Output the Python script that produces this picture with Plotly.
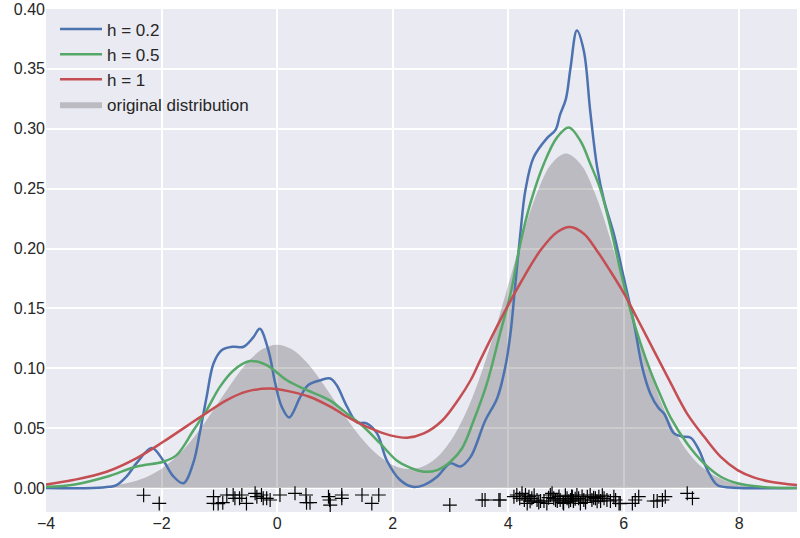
import plotly.graph_objects as go

# ---- data ----
h02_x = [-4.0, -3.2, -2.9, -2.78, -2.6, -2.43, -2.17, -1.97, -1.8, -1.62, -1.45, -1.33, -1.22, -1.10,
         -0.96, -0.76, -0.58, -0.41, -0.30, -0.15, -0.03, 0.08, 0.21, 0.40, 0.54, 0.75, 0.92, 1.03,
         1.21, 1.38, 1.55, 1.73, 1.90, 2.13, 2.35, 2.54, 2.77, 3.0, 3.17, 3.35, 3.6, 3.81, 3.95,
         4.04, 4.12, 4.21, 4.30, 4.44, 4.67, 4.82, 4.90, 5.0, 5.08, 5.19, 5.31, 5.42, 5.54, 5.66,
         5.83, 6.00, 6.18, 6.32, 6.46, 6.60, 6.70, 6.87, 7.01, 7.16, 7.30, 7.45, 7.62, 7.85, 9.0]
h02_y = [0.0, 0.0, 0.001, 0.0025, 0.010, 0.021, 0.0335, 0.023, 0.010, 0.004, 0.021, 0.048, 0.076, 0.104,
         0.115, 0.118, 0.118, 0.126, 0.133, 0.115, 0.087, 0.068, 0.059, 0.076, 0.086, 0.090, 0.0915, 0.086,
         0.068, 0.055, 0.054, 0.0456, 0.023, 0.0067, 0.001, 0.0025, 0.0094, 0.0206, 0.018, 0.026, 0.056, 0.075, 0.101,
         0.129, 0.168, 0.212, 0.249, 0.276, 0.292, 0.299, 0.312, 0.325, 0.351, 0.382, 0.365, 0.315, 0.268, 0.240,
         0.212, 0.176, 0.137, 0.101, 0.079, 0.067, 0.062, 0.0456, 0.043, 0.042, 0.032, 0.015, 0.0025, 0.0005, 0.0]

h05_x = [-4.0, -3.5, -2.95, -2.43, -1.97, -1.74, -1.45, -1.22, -0.99, -0.76, -0.47, -0.18, 0.17, 0.46,
         0.92, 1.21, 1.50, 1.79, 2.07, 2.30, 2.54, 2.77, 3.0, 3.2, 3.4, 3.63, 3.86, 4.04, 4.21, 4.38,
         4.62, 4.85, 5.05, 5.25, 5.42, 5.60, 5.77, 5.94, 6.12, 6.29, 6.46, 6.64, 6.81, 7.10, 7.39,
         7.68, 7.97, 8.37, 9.0]
h05_y = [0.001, 0.003, 0.0094, 0.018, 0.022, 0.0275, 0.048, 0.065, 0.0845, 0.098, 0.106, 0.1026, 0.090, 0.083,
         0.073, 0.062, 0.051, 0.037, 0.023, 0.017, 0.0136, 0.015, 0.022, 0.033, 0.056, 0.087, 0.129, 0.162, 0.204, 0.237,
         0.271, 0.293, 0.301, 0.290, 0.271, 0.249, 0.218, 0.182, 0.148, 0.121, 0.098, 0.077, 0.059, 0.037, 0.0206,
         0.0094, 0.004, 0.001, 0.0]

h1_x = [-4.0, -3.53, -2.95, -2.43, -1.97, -1.57, -1.22, -0.87, -0.53, -0.12, 0.23, 0.57, 0.92, 1.27,
        1.61, 1.96, 2.25, 2.54, 2.85, 3.14, 3.35, 3.52, 3.86, 4.21, 4.56, 4.85, 5.07, 5.31, 5.54,
        5.77, 6.0, 6.23, 6.52, 6.81, 7.10, 7.39, 7.68, 7.97, 8.25, 8.54, 9.0]
h1_y = [0.003, 0.0067, 0.0136, 0.025, 0.0386, 0.0515, 0.0628, 0.0735, 0.0805, 0.0831, 0.0805, 0.076, 0.068, 0.058,
        0.050, 0.044, 0.042, 0.0456, 0.056, 0.074, 0.090, 0.107, 0.140, 0.171, 0.1985, 0.2138, 0.218, 0.2124, 0.198,
        0.181, 0.163, 0.142, 0.115, 0.088, 0.062, 0.043, 0.026, 0.015, 0.0089, 0.0053, 0.0025]

orig_x = [-4.0, -3.75, -3.5, -3.25, -3.0, -2.75, -2.5, -2.25, -2.0, -1.75, -1.5, -1.25, -1.0, -0.75,
          -0.5, -0.25, 0.0, 0.25, 0.5, 0.75, 1.0, 1.25, 1.5, 1.75, 2.0, 2.25, 2.5, 2.75, 3.0, 3.25,
          3.5, 3.75, 4.0, 4.25, 4.5, 4.75, 5.0, 5.25, 5.5, 5.75, 6.0, 6.25, 6.5, 6.75, 7.0, 7.25,
          7.5, 7.75, 8.0, 8.25, 8.5, 8.75, 9.0]
orig_y = [0.0, 0.0001, 0.0003, 0.0006, 0.0013, 0.0027, 0.0053, 0.0095, 0.0162, 0.0259, 0.0389, 0.0548, 0.0726, 0.0903,
          0.1056, 0.1160, 0.1197, 0.1160, 0.1056, 0.0903, 0.0727, 0.0550, 0.0395, 0.0273, 0.0193, 0.0159, 0.0175, 0.0249, 0.0391, 0.0610,
          0.0910, 0.1279, 0.1694, 0.2108, 0.2465, 0.2707, 0.2793, 0.2707, 0.2465, 0.2108, 0.1694, 0.1278, 0.0907, 0.0604, 0.0378, 0.0222,
          0.0123, 0.0064, 0.0031, 0.0014, 0.0006, 0.0002, 0.0001]

rug_x = [-2.31, -2.04, -1.10, -1.10, -1.02, -0.94, -0.87, -0.76, -0.73, -0.65, -0.61, -0.53, -0.38, -0.35,
         -0.27, -0.24, -0.18, -0.12, 0.05, 0.31, 0.50, 0.51, 0.57, 0.89, 0.91, 0.92, 1.12, 1.12, 1.47, 1.64, 1.76,
         2.99, 3.55, 3.60, 3.84, 3.86, 4.10, 4.15, 4.20, 4.24, 4.28, 4.30, 4.33, 4.36, 4.38, 4.41, 4.45, 4.50,
         4.53, 4.56, 4.62, 4.67, 4.70, 4.73, 4.76, 4.79, 4.82, 4.85, 4.88, 4.90, 4.95, 4.96, 4.99, 5.02, 5.05,
         5.08, 5.10, 5.11, 5.13, 5.16, 5.19, 5.22, 5.25, 5.28, 5.31, 5.34, 5.37, 5.42, 5.45, 5.48, 5.51, 5.54,
         5.57, 5.60, 5.63, 5.66, 5.71, 5.77, 5.83, 5.86, 5.92, 5.94, 6.15, 6.20, 6.26, 6.52, 6.58, 6.67, 6.72,
         7.10, 7.19]
rug_y = [-0.006, -0.0128, -0.0072, -0.0128, -0.013, -0.0122, -0.0058, -0.0058, -0.0086, -0.0086, -0.0058, -0.0128, -0.0044, -0.0072,
         -0.0058, -0.0086, -0.0086, -0.010, -0.0058, -0.0044, -0.0058, -0.0122, -0.0122, -0.0072, -0.010, -0.0142, -0.0058, -0.0086, -0.0058, -0.0128, -0.0058,
         -0.0142, -0.010, -0.010, -0.010, -0.010, -0.0072, -0.0058, -0.0086, -0.0044, -0.0100, -0.0058, -0.0128, -0.0072, -0.0110, -0.0086, -0.0060, -0.010,
         -0.0120, -0.0108, -0.0108, -0.0128, -0.0080, -0.0058, -0.0044, -0.0086, -0.0100, -0.0108, -0.0070, -0.010, -0.0120, -0.0128, -0.0060, -0.0086, -0.0110,
         -0.010, -0.0070, -0.0072, -0.0108, -0.0090, -0.0058, -0.0086, -0.0128, -0.0070, -0.010, -0.0120, -0.0072, -0.0058, -0.010, -0.0080, -0.0086, -0.0110,
         -0.0072, -0.0108, -0.0060, -0.0086, -0.010, -0.0108, -0.0072, -0.010, -0.0128, -0.0130, -0.0128, -0.010, -0.0072, -0.0108, -0.0108, -0.010, -0.0072,
         -0.0044, -0.0086]

x_ticks = [-4, -2, 0, 2, 4, 6, 8]
y_ticks = [0.00, 0.05, 0.10, 0.15, 0.20, 0.25, 0.30, 0.35, 0.40]

BLUE, GREEN, RED = "#4C72B0", "#55A868", "#C44E52"
FONT = "Liberation Sans, Arial, sans-serif"

fig = go.Figure()
fig.add_trace(go.Scatter(x=orig_x, y=orig_y, mode="lines", fill="tozeroy",
                         fillcolor="rgba(0,0,0,0.2)", line=dict(width=0, color="rgba(0,0,0,0)", shape="spline"),
                         name="original distribution", legendrank=4, legendgroup="g4"))
fig.add_trace(go.Scatter(x=h02_x, y=h02_y, mode="lines", line=dict(color=BLUE, width=2.5, shape="spline"),
                         name="h = 0.2", legendrank=1, legendgroup="g1"))
fig.add_trace(go.Scatter(x=h05_x, y=h05_y, mode="lines", line=dict(color=GREEN, width=2.5, shape="spline"),
                         name="h = 0.5", legendrank=2, legendgroup="g2"))
fig.add_trace(go.Scatter(x=h1_x, y=h1_y, mode="lines", line=dict(color=RED, width=2.5, shape="spline"),
                         name="h = 1", legendrank=3, legendgroup="g3"))
fig.add_trace(go.Scatter(x=rug_x, y=rug_y, mode="markers", showlegend=False,
                         marker=dict(symbol="cross-thin", size=10, line=dict(color="black", width=1.2))))

fig.update_layout(
    width=800, height=538,
    margin=dict(l=46, r=3, t=9, b=26, autoexpand=False),
    paper_bgcolor="white", plot_bgcolor="#EAEAF2",
    font=dict(family=FONT, size=16, color="#262626"),
    legend=dict(x=0.012, y=0.995, xanchor="left", yanchor="top", bgcolor="rgba(0,0,0,0)",
                font=dict(size=17), tracegroupgap=0, traceorder="grouped", itemwidth=42),
)
fig.update_xaxes(range=[-4, 9], tickvals=x_ticks, showgrid=True, gridcolor="white", gridwidth=1.5,
                 zeroline=False, showline=False, ticks="", automargin=False)
fig.update_yaxes(range=[-0.02, 0.40], tickvals=y_ticks, tickformat=".2f", showgrid=True, gridcolor="white",
                 gridwidth=1.5, zeroline=False, showline=False, ticks="", automargin=False)

fig.write_html("out.html", config={"displayModeBar": False},
               post_script="document.body.style.margin='0';document.body.style.overflow='hidden';")
